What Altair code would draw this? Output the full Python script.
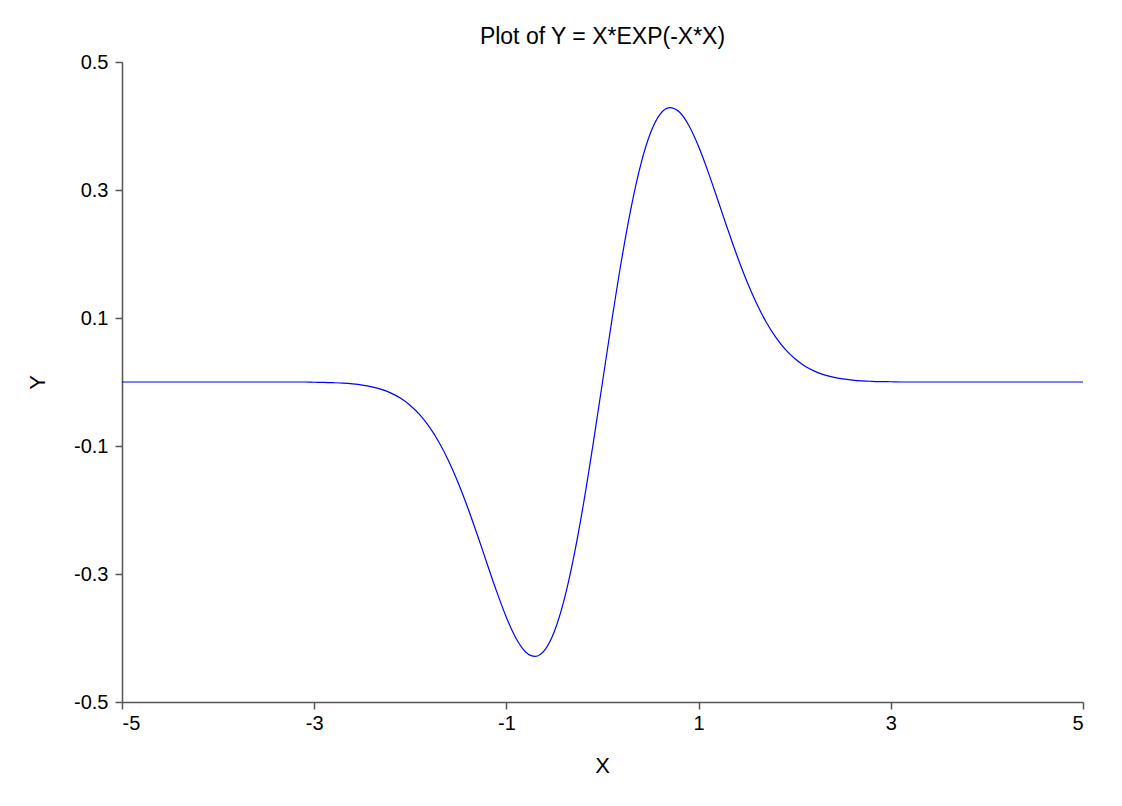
import altair as alt
import pandas as pd

# X positions (step 0.1 from -5 to 5)
x_vals = [round(-5 + 0.1 * i, 1) for i in range(101)]

# Y values for X >= 0 (0.0 .. 3.0); curve is flat at 0 beyond
y_pos = [0.0, 0.0990, 0.1922, 0.2742, 0.3409, 0.3894, 0.4186, 0.4288, 0.4218, 0.4004,
         0.3679, 0.3280, 0.2843, 0.2399, 0.1972, 0.1581, 0.1237, 0.0945, 0.0705, 0.0514,
         0.0366, 0.0255, 0.0174, 0.0116, 0.0076, 0.0048, 0.0030, 0.0018, 0.0011, 0.0006,
         0.0004]
y_tail = [0.0] * 20

y_right = y_pos + y_tail                 # x = 0.0 .. 5.0
y_left = [-v for v in reversed(y_right[1:])]  # x = -5.0 .. -0.1
y_vals = y_left + y_right

x_ticks = [-5, -3, -1, 1, 3, 5]
y_ticks = [-0.5, -0.3, -0.1, 0.1, 0.3, 0.5]

df = pd.DataFrame({"X": x_vals, "Y": y_vals})

FONT = "Liberation Sans"
AXIS_COLOR = "#555555"
HYPHEN_EXPR = "replace(datum.label, '\u2212', '-')"

chart = (
    alt.Chart(df)
    .mark_line(color="#0000FF", strokeWidth=1.2, interpolate="monotone")
    .encode(
        x=alt.X(
            "X:Q",
            scale=alt.Scale(domain=[-5, 5], nice=False, zero=False),
            axis=alt.Axis(
                values=x_ticks,
                format="d",
                labelExpr=HYPHEN_EXPR,
                title="X",
                grid=False,
                tickSize=7,
                labelPadding=4,
                labelFontSize=20,
                labelFont=FONT,
                labelColor="#000000",
                titleFont=FONT,
                titleFontSize=22,
                titleFontWeight="normal",
                titleColor="#000000",
                titleX=480,
                titleY=63,
                titleBaseline="middle",
                domainColor=AXIS_COLOR,
                tickColor=AXIS_COLOR,
                domainWidth=1.5,
                tickWidth=1.5,
            ),
        ),
        y=alt.Y(
            "Y:Q",
            scale=alt.Scale(domain=[-0.5, 0.5], nice=False, zero=False),
            axis=alt.Axis(
                values=y_ticks,
                format=".1f",
                labelExpr=HYPHEN_EXPR,
                title="Y",
                grid=False,
                tickSize=7,
                labelPadding=7,
                labelFontSize=20,
                labelFont=FONT,
                labelColor="#000000",
                titleFont=FONT,
                titleFontSize=22,
                titleFontWeight="normal",
                titleColor="#000000",
                titleAngle=-90,
                titleX=-85,
                titleY=320,
                titleBaseline="middle",
                domainColor=AXIS_COLOR,
                tickColor=AXIS_COLOR,
                domainWidth=1.5,
                tickWidth=1.5,
            ),
        ),
    )
    .properties(
        width=961,
        height=640,
        title=alt.TitleParams(
            "Plot of Y = X*EXP(-X*X)",
            font=FONT,
            fontSize=23,
            fontWeight="normal",
            color="#000000",
            anchor="middle",
            offset=3,
        ),
        autosize=alt.AutoSizeParams(type="none"),
        padding={"left": 114, "top": 54, "right": 30, "bottom": 80},
    )
    .configure_view(strokeWidth=0, stroke=None)
)

chart.save("out.html", embed_options={"renderer": "svg", "actions": False})
